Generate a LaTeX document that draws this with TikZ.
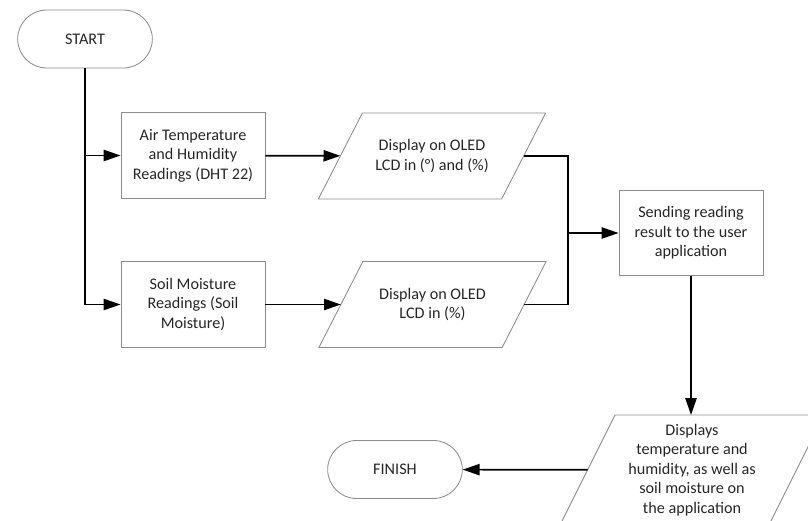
\documentclass[tikz,border=0pt]{standalone}
\usepackage{fontspec}
\setmainfont{Carlito}
\usepackage{tikz}
\usetikzlibrary{shapes.misc,arrows.meta,calc,positioning}

\begin{document}
\begin{tikzpicture}[x=0.025cm, y=-0.025cm,
   every node/.style={font=\fontsize{11.5}{13.8}\selectfont, text=black!85, align=center},
   edge line/.style={draw=black!45, line width=0.6pt},
   term/.style={rounded rectangle, edge line, minimum width=3.6cm, minimum height=1.45cm},
   proc/.style={rectangle, edge line, minimum width=3.6cm, minimum height=2.13cm},
   io/.style={rectangle, outer sep=0pt, minimum width=4.58cm, minimum height=2.15cm},
   flow/.style={draw=black, line width=1.2pt},
   arr/.style={flow, -{Triangle[length=12pt,width=8pt]}}]
   \useasboundingbox (0,0) rectangle (808,520);
   \clip (0,0) rectangle (808,520);
   \node[term] (start) at (85,39) {START};
   \node[term] (finish) at (395,469.5) {FINISH};
   \foreach \pos/\name/\disp in {{(193,155.5)/air/Air Temperature\\and Humidity\\Readings (DHT 22)}, {(193,304.5)/soil/Soil Moisture\\Readings (Soil\\Moisture)}, {(691,233)/send/Sending reading\\result to the user\\application}}
   \node[proc] (\name) at \pos {\disp};
   \node[io] (oledA) at (432,156) {Display on OLED\\LCD in (°) and (\%)};
   \node[io] (oledB) at (432.5,304.5) {Display on OLED\\LCD in (\%)};
   \node[io, minimum width=5.22cm, minimum height=2.75cm] (show) at (692,470) {Displays\\temperature and\\humidity, as well as\\soil moisture on\\the application};
   \foreach \n/\s in {oledA/22, oledB/22, show/27.5} % slanted outline of the display boxes
   \draw[edge line] ($(\n.north west)+(\s,0)$) -- ($(\n.north east)+(\s,0)$) -- ($(\n.south east)-(\s,0)$) -- ($(\n.south west)-(\s,0)$) -- cycle;
   \coordinate (join) at (568,233);
   \draw[arr] (start) |- (soil);
   \draw[arr] (start |- air) -- (air);
   \draw[arr] (air) -- (oledA);
   \draw[arr] (soil) -- (oledB);
   \draw[flow] (oledA) -| (join) |- (oledB);
   \draw[arr] (join) -- (send);
   \draw[arr] (send.south) -- (send.south |- show.north);
   \draw[arr] (show) -- (finish);
\end{tikzpicture}
\end{document}
